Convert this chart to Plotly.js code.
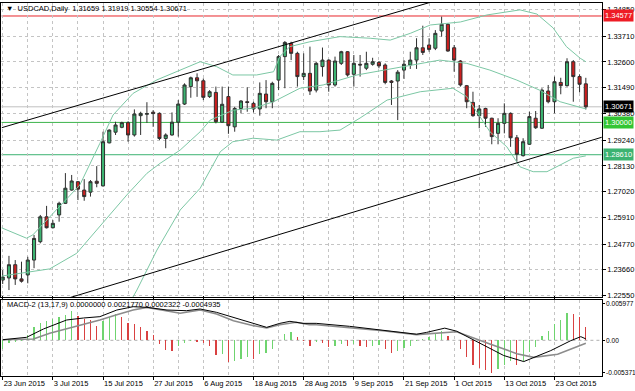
<!DOCTYPE html>
<html><head><meta charset="utf-8">
<script src="https://cdn.plot.ly/plotly-3.0.1.min.js"></script>
<style>html,body{margin:0;padding:0;background:#fff;overflow:hidden}#c{width:635px;height:391px}</style>
</head><body><div id="c"></div>
<script>
// ---- data (USDCAD Daily, 23 Jun 2015 - 30 Oct 2015) ----
const openP  = [1.2322,1.2331,1.2388,1.2327,1.2344,1.2408,1.2487,1.2594,1.2547,1.2602,1.2652,1.2709,1.2745,1.2709,1.2700,1.2747,1.2727,1.2912,1.2958,1.2979,1.2999,1.2946,1.3029,1.3035,1.3044,1.3039,1.2931,1.2946,1.3001,1.3079,1.3154,1.3192,1.3179,1.3111,1.3129,1.3001,1.3111,1.2981,1.3060,1.3089,1.3082,1.3058,1.3122,1.3089,1.3182,1.3283,1.3340,1.3297,1.3197,1.3211,1.3139,1.3240,1.3268,1.3161,1.3254,1.3304,1.3207,1.3250,1.3233,1.3250,1.3258,1.3247,1.3178,1.3178,1.3225,1.3247,1.3268,1.3321,1.3333,1.3319,1.3393,1.3422,1.3321,1.3264,1.3158,1.3086,1.3029,1.3060,1.3018,1.2953,1.2996,1.3039,1.2934,1.2857,1.2906,1.3018,1.2975,1.3135,1.3089,1.3172,1.3158,1.3261,1.3197,1.31659];
const highP  = [1.2365,1.2426,1.2408,1.2401,1.2422,1.2516,1.2602,1.2641,1.2580,1.2659,1.2782,1.2774,1.2748,1.2756,1.2752,1.2812,1.2960,1.2970,1.3003,1.3003,1.3005,1.3056,1.3046,1.3087,1.3053,1.3043,1.2953,1.3043,1.3096,1.3168,1.3197,1.3211,1.3189,1.3139,1.3154,1.3154,1.3154,1.3067,1.3096,1.3151,1.3089,1.3172,1.3182,1.3175,1.3290,1.3350,1.3347,1.3304,1.3297,1.3326,1.3261,1.3322,1.3271,1.3283,1.3308,1.3307,1.3290,1.3290,1.3304,1.3278,1.3264,1.3254,1.3182,1.3225,1.3268,1.3304,1.3362,1.3416,1.3362,1.3397,1.3455,1.3426,1.3333,1.3268,1.3161,1.3132,1.3075,1.3063,1.3020,1.3018,1.3082,1.3043,1.2946,1.2932,1.3046,1.3049,1.3147,1.3161,1.3197,1.3192,1.3276,1.3268,1.3207,1.31919];
const lowP   = [1.2305,1.2279,1.2301,1.2311,1.2308,1.2373,1.2480,1.2544,1.2544,1.2573,1.2649,1.2706,1.2666,1.2663,1.2681,1.2721,1.2724,1.2910,1.2946,1.2975,1.2917,1.2939,1.2946,1.2998,1.2981,1.2924,1.2889,1.2943,1.2939,1.3075,1.3106,1.3110,1.3096,1.3105,1.2996,1.2999,1.2951,1.2960,1.3039,1.3046,1.3043,1.3029,1.3061,1.3061,1.3139,1.3147,1.3268,1.3154,1.3182,1.3118,1.3129,1.3197,1.3132,1.3154,1.3247,1.3197,1.3154,1.3197,1.3225,1.3244,1.3233,1.3164,1.3075,1.3010,1.3187,1.3230,1.3230,1.3290,1.3304,1.3311,1.3369,1.3304,1.3218,1.3154,1.3061,1.3024,1.2975,1.2981,1.2906,1.2906,1.2953,1.2895,1.2831,1.2853,1.2903,1.2972,1.2972,1.3082,1.3039,1.3121,1.3154,1.3089,1.3129,1.30554];
const closeP = [1.2335,1.2388,1.2327,1.2317,1.2408,1.2501,1.2594,1.2547,1.2566,1.2652,1.2717,1.2748,1.2713,1.2681,1.2745,1.2738,1.2917,1.2967,1.2989,1.2999,1.2946,1.3036,1.3039,1.3038,1.3038,1.2931,1.2946,1.3001,1.3079,1.3161,1.3192,1.3179,1.3108,1.3132,1.3003,1.3078,1.2986,1.3060,1.3092,1.3086,1.3058,1.3125,1.3089,1.3168,1.3283,1.3344,1.3297,1.3197,1.3211,1.3135,1.3254,1.3268,1.3161,1.3264,1.3304,1.3204,1.3254,1.3247,1.3254,1.3261,1.3243,1.3172,1.3172,1.3216,1.3250,1.3268,1.3321,1.3301,1.3314,1.3383,1.3422,1.3307,1.3268,1.3161,1.3089,1.3029,1.3058,1.3018,1.2939,1.2996,1.3039,1.2934,1.2863,1.2917,1.3025,1.2977,1.3139,1.3089,1.3175,1.3158,1.3261,1.3197,1.3164,1.30671];

const dateTickIdx  = [0,8,16,24,32,40,48,56,64,72,80,88];
const dateTickText = ['23 Jun 2015','3 Jul 2015','15 Jul 2015','27 Jul 2015','6 Aug 2015','18 Aug 2015','28 Aug 2015','9 Sep 2015','21 Sep 2015','1 Oct 2015','13 Oct 2015','23 Oct 2015'];
const priceTicks = [1.34850,1.33710,1.32600,1.31490,1.30380,1.29240,1.28130,1.27020,1.25910,1.24770,1.23660,1.22550];

// Bollinger bands (sampled along bar index)
const bbUpIdx = [-0.2,3.8,4.8,8.1,12.3,15.5,17.6,19.8,20.8,24.6,31.5,34.1,36.7,40.5,43.2,44.2,45.8,49,53.8,58.6,61.8,65,68.2,73,77.2,82.5,85.2,87.8,89.9,92.1,93];
const bbUpVal = [1.2547,1.2502,1.2516,1.2609,1.2731,1.2910,1.3032,1.3096,1.3125,1.3183,1.3261,1.3240,1.3204,1.3204,1.3218,1.3283,1.3326,1.3347,1.3369,1.3362,1.3354,1.3383,1.3419,1.3432,1.3462,1.3484,1.3466,1.3406,1.3326,1.3276,1.3261];
const bbMidIdx = [-0.2,4.1,7.5,11.8,15.5,19.8,23,25.1,28.3,31.5,33.1,36.8,40,43.2,47.4,51.1,56.5,60.7,63.8,67,69.7,74,77.7,82,85.6,88.9,93];
const bbMidVal = [1.2339,1.2355,1.2370,1.2437,1.2552,1.2688,1.2781,1.2824,1.2881,1.2960,1.3010,1.3053,1.3061,1.3089,1.3147,1.3161,1.3204,1.3225,1.3240,1.3254,1.3268,1.3254,1.3225,1.3182,1.3139,1.3089,1.3058];
const bbLowIdx = [18.7,21.4,24.6,28.3,31.5,34.7,36.7,39.9,43.7,47.4,50.6,53.8,57,61.3,66.6,71.8,74,77.7,80.4,82.5,84.6,86.8,88.9,91,93];
const bbLowVal = [1.2150,1.2279,1.2451,1.2623,1.2717,1.2874,1.2917,1.2932,1.2924,1.2960,1.2960,1.2967,1.3019,1.3096,1.3132,1.3147,1.3111,1.2960,1.2895,1.2809,1.2788,1.2788,1.2817,1.2846,1.2856];

// channel trend lines (two anchor points each)
const trendUpIdx = [-0.16,68.37], trendUpVal = [1.29773,1.35179];
const trendLoIdx = [0,95.84],     trendLoVal = [1.21593,1.29386];

// horizontal levels
const levelRed = 1.34577, levelGreen = 1.30000, levelSea = 1.28610, lastPrice = 1.30671;

// MACD-2 (13,17,9)
const macdHist = [-0.00143,-0.00044,-0.00022,-0.00012,0.00093,0.00224,0.00279,0.00323,0.00345,0.00389,0.00422,0.00476,0.00405,0.00345,0.00328,0.00241,0.00323,0.00389,0.00433,0.00389,0.00279,0.00268,0.00213,0.00158,0.00093,-0.00061,-0.00160,-0.00181,-0.00090,-0.00040,-0.00010,-0.00030,-0.00050,-0.00100,-0.00236,-0.00220,-0.00350,-0.00340,-0.00300,-0.00280,-0.00310,-0.00230,-0.00210,-0.00140,0.00000,0.00100,0.00140,0.00050,-0.00005,-0.00090,-0.00033,-0.00050,-0.00105,-0.00088,-0.00060,-0.00099,-0.00060,-0.00099,-0.00105,-0.00088,-0.00077,-0.00143,-0.00214,-0.00181,-0.00126,-0.00088,-0.00010,0.00020,0.00060,0.00104,0.00158,0.00076,0.00002,-0.00143,-0.00280,-0.00400,-0.00460,-0.00490,-0.00530,-0.00470,-0.00400,-0.00335,-0.00400,-0.00335,-0.00198,-0.00105,0.00076,0.00158,0.00268,0.00334,0.00449,0.00433,0.00378,0.002177];
const macdMainIdx = [0,3.8,6.5,10.2,12.9,15.5,18.2,20.8,23,26.2,29.3,31.5,34.1,36.8,40,42.1,44.2,45.8,47.9,50,55.3,60.6,66,67.6,70.5,72.4,77.7,79.9,83.1,84.7,87.4,90.6,92.2,93];
const macdMainVal = [0.0001,0.00049,0.00186,0.00334,0.00367,0.00389,0.00498,0.00553,0.00542,0.00498,0.00487,0.00515,0.0046,0.00378,0.00268,0.00213,0.00279,0.00312,0.00279,0.00279,0.0023,0.0017,0.0010,0.0013,0.0020,0.0015,-0.0014,-0.0025,-0.0035,-0.0028,-0.0017,-0.00006,0.0006,0.000232];
const macdSigIdx = [0,4.9,7.5,10.2,12.9,15.5,18.2,20.8,23,26.2,28.3,31.5,34.1,36.8,40,42.1,44.2,46.8,48.9,50,55.3,60.6,66,72.4,77.7,82,84.7,88.5,93];
const macdSigVal = [0.0001,0.00021,0.00115,0.00186,0.00257,0.00334,0.00422,0.00498,0.00542,0.00487,0.00444,0.00498,0.00433,0.00323,0.00241,0.00202,0.00257,0.00296,0.00257,0.00257,0.00213,0.00158,0.00093,0.0014,-0.0006,-0.0022,-0.0028,-0.0023,-0.000494];
const macdTickVals = [0.005977,0,-0.005371];
const macdTickText = ['0.005977','0.00','-0.005371'];

// ---- drawing ----
const idx = openP.map((_, i) => i);
const histColors = macdHist.map((v, i) => (i === 0 || v >= macdHist[i - 1]) ? '#6fd46f' : '#d94141');
const gridIdx = []; for (let k = 0; k <= 95; k += 4) gridIdx.push(k);

const FONT = 'Liberation Sans, Arial, sans-serif';
const FS = 7.5;
const bbColor = '#7cc7a4';
const traces = [
  {type:'scatter', mode:'lines', x:bbUpIdx, y:bbUpVal, line:{color:bbColor, width:1}, xaxis:'x', yaxis:'y'},
  {type:'scatter', mode:'lines', x:bbMidIdx, y:bbMidVal, line:{color:bbColor, width:1}, xaxis:'x', yaxis:'y'},
  {type:'scatter', mode:'lines', x:bbLowIdx, y:bbLowVal, line:{color:bbColor, width:1}, xaxis:'x', yaxis:'y'},
  {type:'scatter', mode:'lines', x:trendUpIdx, y:trendUpVal, line:{color:'#000', width:1}, xaxis:'x', yaxis:'y'},
  {type:'scatter', mode:'lines', x:trendLoIdx, y:trendLoVal, line:{color:'#000', width:1}, xaxis:'x', yaxis:'y'},
  {type:'candlestick', x:idx, open:openP, high:highP, low:lowP, close:closeP, xaxis:'x', yaxis:'y',
   increasing:{line:{color:'#2f2f2f', width:1}, fillcolor:'#3cb371'},
   decreasing:{line:{color:'#2f2f2f', width:1}, fillcolor:'#cc1f1f'}},
  {type:'bar', x:idx, y:macdHist, width:0.2, marker:{color:histColors, line:{width:0}}, xaxis:'x', yaxis:'y2'},
  {type:'scatter', mode:'lines', x:macdSigIdx, y:macdSigVal, line:{color:'#8c8c8c', width:1.6}, xaxis:'x', yaxis:'y2'},
  {type:'scatter', mode:'lines', x:macdMainIdx, y:macdMainVal, line:{color:'#000', width:1}, xaxis:'x', yaxis:'y2'}
];

const X0 = 0.00236, X1 = 0.94756;
const gridStyle = {gridcolor:'#c4c4c4', griddash:'3px,3px', gridwidth:1};
const hline = (v, color) => ({type:'line', xref:'x', yref:'y', x0:-1, x1:97, y0:v, y1:v, line:{color:color, width:1}, layer:'below'});
const box = (v, bg, txt) => ({xref:'paper', yref:'y', x:X1 + 0.002, y:v, xanchor:'left', yanchor:'middle',
  text:txt, showarrow:false, bgcolor:bg, font:{family:FONT, size:FS, color:'#fff'}, borderpad:1});

const layout = {
  width:635, height:391, margin:{l:0, r:0, t:0, b:0},
  paper_bgcolor:'#fff', plot_bgcolor:'#fff', showlegend:false, bargap:0,
  font:{family:FONT, size:FS, color:'#000'},
  xaxis:Object.assign({domain:[X0, X1], range:[-0.19, 95.53], anchor:'y2', type:'linear',
    tickmode:'array', tickvals:dateTickIdx, ticktext:dateTickText, ticklabelposition:'outside right', tickangle:0,
    ticks:'outside', ticklen:3, tickcolor:'#000', tickfont:{family:FONT, size:FS},
    showline:true, linecolor:'#000', linewidth:1, mirror:'all', zeroline:false,
    rangeslider:{visible:false}, showgrid:true,
    minor:{tickvals:gridIdx, showgrid:true, gridcolor:'#c4c4c4', griddash:'3px,3px', ticks:''}}, gridStyle),
  yaxis:Object.assign({domain:[0.24041, 0.99233], range:[1.22491, 1.35136], side:'right', anchor:'x',
    tickmode:'array', tickvals:priceTicks, ticktext:priceTicks.map(v => v.toFixed(5)),
    ticks:'outside', ticklen:3, tickcolor:'#000', tickfont:{family:FONT, size:FS},
    showline:true, linecolor:'#000', linewidth:1, mirror:true, zeroline:false, showgrid:true}, gridStyle),
  yaxis2:{domain:[0.03760, 0.23274], range:[-0.00592, 0.00663], side:'right', anchor:'x',
    tickmode:'array', tickvals:macdTickVals, ticktext:macdTickText,
    ticks:'outside', ticklen:2, tickcolor:'#000', tickfont:{family:FONT, size:6.6},
    showline:true, linecolor:'#000', linewidth:1, mirror:true, zeroline:false, showgrid:false},
  shapes:[
    hline(lastPrice, '#c0c0c0'), hline(levelRed, '#e8262b'), hline(levelGreen, '#3cb44b'), hline(levelSea, '#3cb371'),
    {type:'line', xref:'x', yref:'y2', x0:-1, x1:97, y0:0, y1:0, line:{color:'#b0b0b0', width:1, dash:'3px,3px'}, layer:'below'}
  ],
  annotations:[
    box(levelRed, '#ee1c25', levelRed.toFixed(5)),
    box(lastPrice, '#000000', lastPrice.toFixed(5)),
    box(levelGreen, '#33c533', levelGreen.toFixed(5)),
    box(levelSea, '#3cb371', levelSea.toFixed(5)),
    {xref:'paper', yref:'paper', x:4/635, y:1 - 8/391, xanchor:'left', yanchor:'middle', showarrow:false,
     text:'▼  USDCAD,Daily  ' + [openP[93], highP[93], lowP[93], closeP[93]].map(v => v.toFixed(5)).join(' '),
     font:{family:FONT, size:FS, color:'#000'}},
    {xref:'paper', yref:'paper', x:5/635, y:1 - 304/391, xanchor:'left', yanchor:'middle', showarrow:false,
     text:'MACD-2 (13,17,9) 0.0000000 0.0021770 0.0002322 -0.0004935', font:{family:FONT, size:FS, color:'#000'}}
  ]
};
Plotly.newPlot('c', traces, layout, {staticPlot:true, displayModeBar:false});
</script></body></html>
